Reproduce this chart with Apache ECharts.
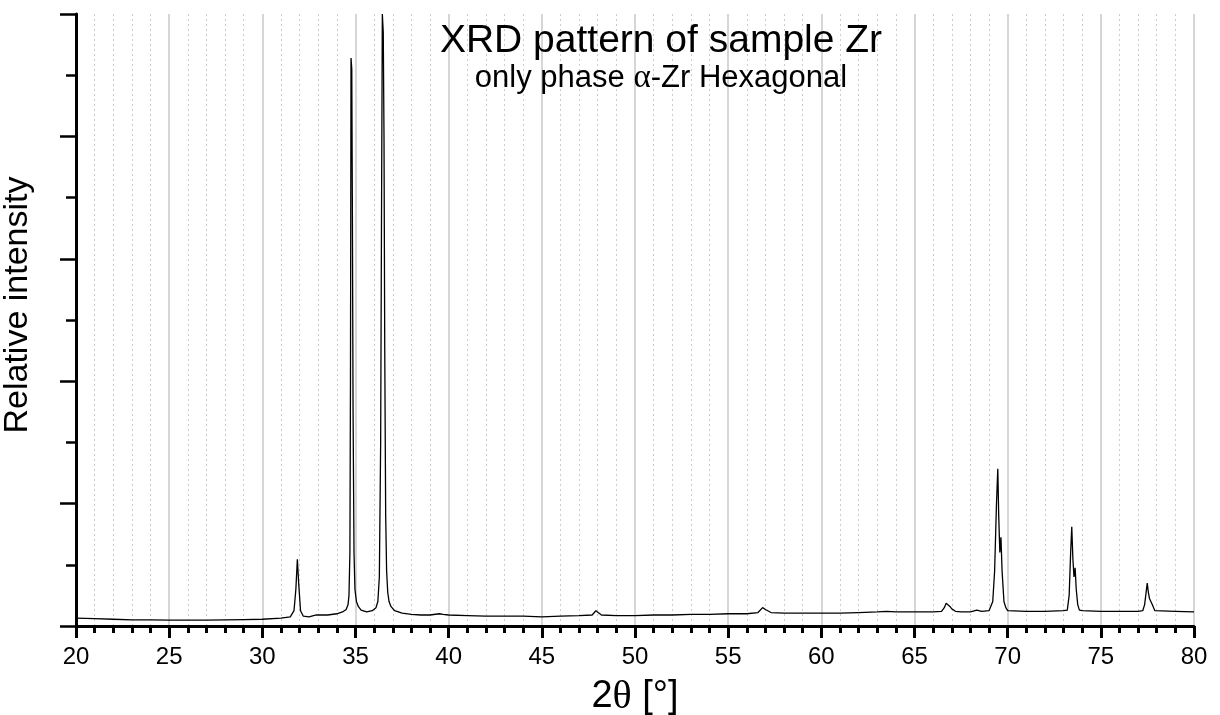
<!DOCTYPE html>
<html>
<head>
<meta charset="utf-8">
<script src="https://cdn.jsdelivr.net/npm/echarts@6/dist/echarts.min.js"></script>
<style>
html,body{margin:0;padding:0;background:#fff;}
#chart{width:1220px;height:715px;}
</style>
</head>
<body>
<div id="chart"></div>
<script>
// ---- Data ----
const titleText = "XRD pattern of sample Zr";
const subtitleParts = ["only phase ", "α", "-Zr Hexagonal"];
const xAxisName = ["2", "θ", " [°]"];
const yAxisName = "Relative intensity";
const xTicks = [20, 25, 30, 35, 40, 45, 50, 55, 60, 65, 70, 75, 80];

const twoTheta = [
  20, 21, 22, 23, 24, 25, 26, 27, 28, 29, 30, 31, 31.5, 31.7, 31.8, 31.88, 31.95, 32.05, 32.2, 32.5,
  32.9, 33.0, 33.5, 34.0, 34.3, 34.5, 34.6, 34.65, 34.7, 34.73, 34.76, 34.8, 34.83, 34.87, 34.92, 34.97,
  35.05, 35.15, 35.3, 35.6, 35.9, 36.1, 36.2, 36.28, 36.35, 36.4, 36.44, 36.49, 36.53, 36.57, 36.62, 36.67,
  36.73, 36.8, 36.9, 37.1, 37.5, 38.0, 38.5, 39.0, 39.5, 39.7, 40, 41, 42, 43, 44, 45, 46, 47,
  47.7, 47.9, 48.0, 48.2, 49, 50, 51, 52, 53, 54, 55, 56, 56.6, 56.85, 57.0, 57.3, 58, 59, 60, 61,
  62, 63, 63.5, 64, 65, 66, 66.45, 66.6, 66.7, 66.8, 66.9, 67.0, 67.2, 67.5, 68.0, 68.35, 68.6, 69.0,
  69.1, 69.2, 69.3, 69.4, 69.47, 69.52, 69.58, 69.64, 69.7, 69.8, 69.9, 70.0, 71, 72, 73.0, 73.2,
  73.3, 73.38, 73.44, 73.5, 73.56, 73.62, 73.68, 73.76, 73.85, 74, 75, 76, 77.0, 77.25, 77.35, 77.43,
  77.49, 77.55, 77.61, 77.68, 77.76, 77.9, 78, 79, 80
];
const intensity = [
  1.3, 1.2, 1.1, 1.0, 1.0, 0.95, 0.95, 0.95, 1.0, 1.05, 1.1, 1.3, 1.5, 2.5, 6.0, 10.9, 7.0, 2.5, 1.6, 1.5,
  1.8, 1.6, 1.8, 2.0, 2.3, 2.7, 3.5, 5.0, 12, 40, 92.8, 91, 70, 35, 12, 6,
  4.0, 3.2, 2.6, 2.3, 2.5, 3.0, 4.0, 8.0, 30, 70, 100, 97, 80, 45, 18, 9,
  5.5, 4.0, 3.2, 2.5, 2.1, 1.9, 1.8, 1.8, 2.0, 1.9, 1.8, 1.7, 1.6, 1.6, 1.6, 1.5, 1.6, 1.7,
  1.8, 2.5, 2.2, 1.8, 1.7, 1.7, 1.8, 1.8, 1.9, 1.9, 2.0, 2.0, 2.2, 3.0, 2.7, 2.2, 2.1, 2.1, 2.1, 2.1,
  2.2, 2.3, 2.4, 2.3, 2.3, 2.3, 2.4, 3.0, 3.7, 3.5, 3.2, 2.8, 2.4, 2.3, 2.3, 2.6, 2.4, 2.5,
  2.8, 4.0, 9.0, 20, 25.7, 18, 12, 14.5, 9.0, 4.0, 3.0, 2.5, 2.4, 2.4, 2.5, 2.6,
  5.0, 12, 16.2, 11, 8.0, 9.5, 6.0, 3.5, 2.6, 2.5, 2.4, 2.4, 2.4, 2.5, 3.5, 5.5,
  7.0, 5.5, 4.5, 4.7, 3.5, 2.5, 2.4, 2.4, 2.3
];

const seriesData = twoTheta.map((x, i) => [x, intensity[i]]);

const chart = echarts.init(document.getElementById('chart'), null, {renderer: 'canvas'});
const FONT = '"Liberation Sans", Arial, sans-serif';
const SERIF = '"Liberation Serif", "DejaVu Serif", serif';

chart.setOption({
  backgroundColor: '#ffffff',
  animation: false,
  title: [{
    text: titleText,
    left: 656,
    top: 17,
    textAlign: 'center',
    textStyle: {fontFamily: FONT, fontSize: 39, fontWeight: 'normal', color: '#000'}
  }, {
    text: '{a|' + subtitleParts[0] + '}{b|' + subtitleParts[1] + '}{a|' + subtitleParts[2] + '}',
    left: 656,
    top: 57,
    textAlign: 'center',
    textStyle: {
      fontFamily: FONT, fontSize: 31, fontWeight: 'normal', color: '#000',
      rich: {
        a: {fontFamily: FONT, fontSize: 31, color: '#000'},
        b: {fontFamily: SERIF, fontSize: 33, color: '#000'}
      }
    }
  }],
  grid: {left: 76, right: 26, top: 14, bottom: 89, containLabel: false, outerBoundsMode: 'none'},
  xAxis: {
    type: 'value',
    min: 20, max: 80, interval: 5,
    name: '{a|' + xAxisName[0] + '}{b|' + xAxisName[1] + '}{a|' + xAxisName[2] + '}',
    nameLocation: 'middle',
    nameGap: 51,
    nameTextStyle: {
      fontFamily: FONT, fontSize: 38, color: '#000',
      rich: {
        a: {fontFamily: FONT, fontSize: 38, color: '#000'},
        b: {fontFamily: SERIF, fontSize: 40, color: '#000'}
      }
    },
    axisLine: {show: true, onZero: false, lineStyle: {color: '#000', width: 3}},
    axisTick: {show: true, inside: false, length: 12, lineStyle: {color: '#000', width: 3}},
    minorTick: {show: true, splitNumber: 5, length: 7, lineStyle: {color: '#000', width: 3}},
    axisLabel: {
      fontFamily: FONT, fontSize: 24, color: '#000', margin: 19,
      formatter: v => (xTicks.indexOf(v) >= 0 ? String(v) : '')
    },
    splitLine: {show: true, lineStyle: {color: '#c8c8c8', width: 1.5, type: 'solid'}},
    minorSplitLine: {show: true, lineStyle: {color: '#cccccc', width: 1, type: [2, 3]}}
  },
  yAxis: {
    type: 'value',
    min: 0, max: 100, interval: 20,
    name: yAxisName,
    nameLocation: 'middle',
    nameGap: 41,
    nameTextStyle: {fontFamily: FONT, fontSize: 34, color: '#000', padding: [0, 0, 0, 30]},
    axisLine: {show: true, onZero: false, lineStyle: {color: '#000', width: 3}},
    axisTick: {show: true, inside: false, length: 16, lineStyle: {color: '#000', width: 2.5}},
    minorTick: {show: true, splitNumber: 2, length: 10, lineStyle: {color: '#000', width: 2.5}},
    axisLabel: {show: false},
    splitLine: {show: false}
  },
  series: [{
    type: 'line',
    data: seriesData,
    showSymbol: false,
    symbol: 'none',
    clip: true,
    lineStyle: {color: '#000', width: 1.3},
    z: 5
  }]
});
</script>
</body>
</html>
